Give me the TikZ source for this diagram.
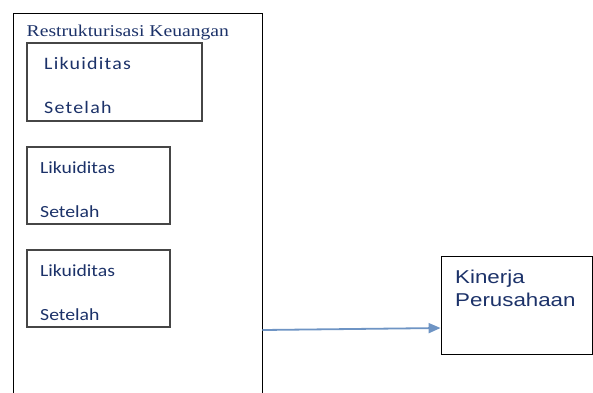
\documentclass[tikz,border=0pt]{standalone}
\usepackage{fontspec}
\usetikzlibrary{arrows.meta}

\newfontfamily\titlefont[FakeStretch=1.19]{Liberation Serif}
\newfontfamily\varfont[FakeStretch=1.16]{Carlito}
\newfontfamily\varwidefont[FakeStretch=1.14,LetterSpace=7]{Carlito}
\newfontfamily\kinfont[FakeStretch=1.2]{Liberation Sans}

\definecolor{txtblue}{RGB}{28,50,105}
\definecolor{arrowblue}{RGB}{110,148,196}
\definecolor{boxgray}{RGB}{70,70,70}

\tikzset{
  outerbox/.style={draw=black, line width=0.9pt, inner sep=0pt, anchor=north west},
  varbox/.style={draw=boxgray, line width=1.4pt, inner sep=0pt},
  label/.style={anchor=base west, inner sep=0pt, text=txtblue},
  flow/.style={draw=arrowblue, line width=1.8pt, -{Triangle[length=12pt,width=10pt]}}
}

\begin{document}
\begin{tikzpicture}[x=1pt, y=-1pt]
  \clip (0,0) rectangle (593,392);
  \fill[white] (0,0) rectangle (593,392);

  % Restrukturisasi Keuangan
  \node[outerbox, minimum width=249pt, minimum height=400pt] (restruk) at (12.5,12.5) {};
  \node[label, font=\titlefont\fontsize{16.5}{18}\selectfont] (title) at (26.5,36) {Restrukturisasi Keuangan};

  % Likuiditas boxes
  \node[varbox, minimum width=175pt, minimum height=78pt] (likA) at (114.5,82) {};
  \node[label, font=\varwidefont\fontsize{17.5}{18}\selectfont] (likAtop) at (44,69) {Likuiditas};
  \node[label, font=\varwidefont\fontsize{17.5}{18}\selectfont] (likAbot) at (44,113) {Setelah};

  \node[varbox, minimum width=143pt, minimum height=77pt] (likB) at (98.5,185.5) {};
  \node[label, font=\varfont\fontsize{17}{18}\selectfont] (likBtop) at (40,173) {Likuiditas};
  \node[label, font=\varfont\fontsize{17}{18}\selectfont] (likBbot) at (40,217) {Setelah};

  \node[varbox, minimum width=143pt, minimum height=77pt] (likC) at (98.5,288.5) {};
  \node[label, font=\varfont\fontsize{17}{18}\selectfont] (likCtop) at (40,276) {Likuiditas};
  \node[label, font=\varfont\fontsize{17}{18}\selectfont] (likCbot) at (40,320) {Setelah};

  % Kinerja Perusahaan
  \node[draw=black, line width=0.9pt, inner sep=0pt, minimum width=151pt, minimum height=98pt] (kin) at (516.5,305) {};
  \node[label, font=\kinfont\fontsize{18.6}{20}\selectfont] (kintop) at (455,283) {Kinerja};
  \node[label, font=\kinfont\fontsize{18.6}{20}\selectfont] (kinbot) at (455,306) {Perusahaan};

  % link
  \draw[flow] (restruk.east |- 0,330) -- (kin.west |- 0,328);
\end{tikzpicture}
\end{document}
